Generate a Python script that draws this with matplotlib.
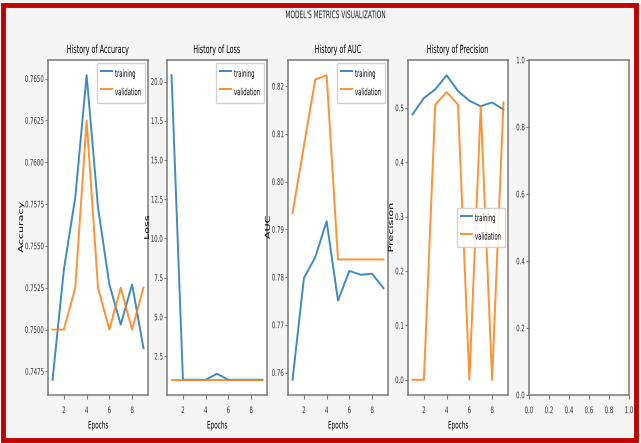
import matplotlib.pyplot as plt
from matplotlib.patches import Rectangle
from matplotlib.patheffects import AbstractPathEffect
from matplotlib.transforms import Affine2D

# epochs and metric histories
epochs = [1, 2, 3, 4, 5, 6, 7, 8, 9]

acc_train = [0.7470, 0.7536, 0.7579, 0.7652, 0.7573, 0.7527, 0.7503, 0.7527, 0.7489]
acc_val = [0.7500, 0.7500, 0.7525, 0.7625, 0.7525, 0.7500, 0.7525, 0.7500, 0.7525]

loss_train = [20.4, 1.0, 1.0, 1.0, 1.38, 1.0, 1.0, 1.0, 1.0]
loss_val = [1.0, 1.0, 1.0, 1.0, 1.0, 1.0, 1.0, 1.0, 1.0]

auc_train = [0.7585, 0.7798, 0.7842, 0.7917, 0.7751, 0.7813, 0.7805, 0.7807, 0.7777]
auc_val = [0.7934, 0.8075, 0.8214, 0.8223, 0.7837, 0.7837, 0.7837, 0.7837, 0.7837]

prec_train = [0.488, 0.518, 0.534, 0.560, 0.531, 0.513, 0.503, 0.510, 0.497]
prec_val = [0.0, 0.0, 0.506, 0.529, 0.506, 0.0, 0.503, 0.0, 0.510]

metrics = ["Accuracy", "Loss", "AUC", "Precision"]
train_series = [acc_train, loss_train, auc_train, prec_train]
val_series = [acc_val, loss_val, auc_val, prec_val]
legend_locs = ["upper right", "upper right", "upper right", "center right"]

acc_ticks = [0.7475, 0.7500, 0.7525, 0.7550, 0.7575, 0.7600, 0.7625, 0.7650]
loss_ticks = [2.5, 5.0, 7.5, 10.0, 12.5, 15.0, 17.5, 20.0]
auc_ticks = [0.76, 0.77, 0.78, 0.79, 0.80, 0.81, 0.82]
prec_ticks = [0.0, 0.1, 0.2, 0.3, 0.4, 0.5]
empty_ticks = [0.0, 0.2, 0.4, 0.6, 0.8, 1.0]


class Stretch(AbstractPathEffect):
    # the reference picture is squashed sideways: text is set small and
    # its glyphs are stretched back up in the other direction
    def __init__(self, sx=1.0, sy=1.0, anchor="center"):
        super().__init__()
        self.sx, self.sy, self.anchor = sx, sy, anchor

    def draw_path(self, renderer, gc, tpath, affine, rgbFace=None):
        ext = tpath.get_extents()
        if self.anchor == "right":
            x0 = ext.x1
        elif self.anchor == "left":
            x0 = ext.x0
        else:
            x0 = (ext.x0 + ext.x1) / 2
        y0 = (ext.y0 + ext.y1) / 2
        t = Affine2D().translate(-x0, -y0).scale(self.sx, self.sy).translate(x0, y0) + affine
        renderer.draw_path(gc, tpath, t, rgbFace)


W, H = 641, 443
fig = plt.figure(figsize=(W / 100, H / 100), dpi=100, facecolor="#f4f4f4")

# red frame around the picture
fig.patches.append(Rectangle((3 / W, 3 / H), 1 - 8 / W, 1 - 8 / H, transform=fig.transFigure,
                             fill=False, edgecolor="#c00000", linewidth=3.5))

lefts = [48, 167, 288, 408, 529]
label_x = [-0.24, -0.17, -0.172, -0.14]
bottom = (H - 395) / H
height = 335 / H
width = 100 / W
spine_col = "#7a7a7a"

axes = []
for l in lefts:
    ax = fig.add_axes([l / W, bottom, width, height])
    for s in ax.spines.values():
        s.set_color(spine_col)
        s.set_linewidth(1.1)
    ax.tick_params(labelsize=3.9, labelcolor="#333333", color=spine_col, width=0.8)
    ax.tick_params(axis="x", length=3, pad=6.2)
    ax.tick_params(axis="y", length=2.2, pad=0.8)
    axes.append(ax)

for ax, name, tr, va, loc, lx in zip(axes, metrics, train_series, val_series, legend_locs, label_x):
    ax.plot(epochs, tr, color="tab:blue", lw=1.4, alpha=0.85, label="training")
    ax.plot(epochs, va, color="tab:orange", lw=1.4, alpha=0.85, label="validation")
    t = ax.set_title("History of " + name, fontsize=4.6, pad=6)
    t.set_path_effects([Stretch(1.0, 1.75)])
    xl = ax.set_xlabel("Epochs", fontsize=4.1, labelpad=7.5)
    xl.set_path_effects([Stretch(1.0, 1.8)])
    yl = ax.set_ylabel(name, fontsize=4.8)
    yl.set_path_effects([Stretch(1.67, 1.0)])
    ax.yaxis.set_label_coords(lx, 0.5)
    ax.set_xticks([2, 4, 6, 8])
    leg = ax.legend(loc=loc, fontsize=3.8, handlelength=2.1, handleheight=3.85,
                    handletextpad=0.64, borderpad=0.7, labelspacing=0.66,
                    borderaxespad=0.6, fancybox=True, framealpha=0.9)
    leg.get_frame().set_edgecolor("#d0d0d0")
    for txt in leg.get_texts():
        txt.set_path_effects([Stretch(1.0, 1.85, "left")])

axes[0].set_yticks(acc_ticks)
axes[0].set_yticklabels(["%.4f" % v for v in acc_ticks])
axes[1].set_yticks(loss_ticks)
axes[2].set_yticks(auc_ticks)
axes[3].set_yticks(prec_ticks)

axes[4].set_xlim(0, 1)
axes[4].set_ylim(0, 1)
axes[4].set_xticks(empty_ticks)
axes[4].set_yticks(empty_ticks)

for ax in axes:
    for lab in ax.get_xticklabels():
        lab.set_path_effects([Stretch(1.0, 1.67)])
    for lab in ax.get_yticklabels():
        lab.set_path_effects([Stretch(1.0, 1.67, "right")])

st = fig.suptitle("MODEL'S METRICS VISUALIZATION", fontsize=4.2, x=336 / W, y=1 - 15 / H,
                  va="center", color="#222222")
st.set_path_effects([Stretch(1.0, 1.79)])

fig.savefig("out.png", dpi=100, facecolor=fig.get_facecolor())
